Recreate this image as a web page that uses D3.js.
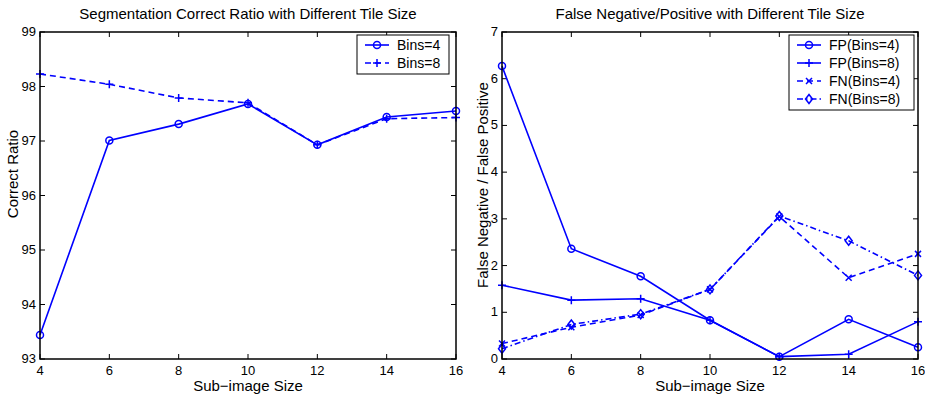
<!DOCTYPE html>
<html>
<head>
<meta charset="utf-8">
<script src="https://cdn.jsdelivr.net/npm/d3@7.9.0/dist/d3.min.js"></script>
<style>
  body { margin: 0; background: #fff; }
  svg { font-family: "Liberation Sans", Arial, sans-serif; }
</style>
</head>
<body>
<div id="chart"></div>
<script>
const sizes = [4, 6, 8, 10, 12, 14, 16];

// left plot: correct ratio
const ratioBins4 = [93.44, 97.01, 97.31, 97.68, 96.93, 97.44, 97.55];
const ratioBins8 = [98.23, 98.04, 97.79, 97.70, 96.93, 97.41, 97.43];

// right plot: false negative / false positive
const fpBins4 = [6.27, 2.36, 1.77, 0.83, 0.05, 0.85, 0.25];
const fpBins8 = [1.58, 1.26, 1.29, 0.83, 0.05, 0.10, 0.80];
const fnBins4 = [0.33, 0.68, 0.94, 1.49, 3.05, 1.74, 2.25];
const fnBins8 = [0.22, 0.74, 0.96, 1.49, 3.06, 2.53, 1.79];

const xTicks = [4, 6, 8, 10, 12, 14, 16];
const ratioTicks = [93, 94, 95, 96, 97, 98, 99];
const fTicks = [0, 1, 2, 3, 4, 5, 6, 7];

const W = 925, H = 394;
const svg = d3.select("#chart").append("svg")
    .attr("width", W).attr("height", H);

const blue = "#0000ff";

function marker(g, type, cx, cy) {
    if (type === "o") {
        g.append("circle").attr("cx", cx).attr("cy", cy).attr("r", 3.5)
            .attr("fill", "none").attr("stroke", blue).attr("stroke-width", 1.5);
    } else if (type === "+") {
        g.append("path").attr("d", `M${cx-4},${cy}H${cx+4}M${cx},${cy-4}V${cy+4}`)
            .attr("stroke", blue).attr("stroke-width", 1.5);
    } else if (type === "x") {
        g.append("path").attr("d", `M${cx-3},${cy-3}L${cx+3},${cy+3}M${cx-3},${cy+3}L${cx+3},${cy-3}`)
            .attr("stroke", blue).attr("stroke-width", 1.5);
    } else if (type === "d") {
        g.append("path").attr("d", `M${cx},${cy-4.5}L${cx+3.5},${cy}L${cx},${cy+4.5}L${cx-3.5},${cy}Z`)
            .attr("fill", "none").attr("stroke", blue).attr("stroke-width", 1.5);
    }
}

const dashes = { "-": null, "--": "6,4", "-.": "6,3,1.5,3" };

function panel(opt) {
    const { left, right, top, bottom } = opt;
    const x = d3.scaleLinear().domain([4, 16]).range([left, right]);
    const y = d3.scaleLinear().domain(opt.yDomain).range([bottom, top]);
    const g = svg.append("g");

    // axes box ticks (inward, on all sides)
    const tl = 5;
    xTicks.forEach(t => {
        g.append("line").attr("x1", x(t)).attr("x2", x(t)).attr("y1", bottom).attr("y2", bottom - tl)
            .attr("stroke", "#000");
        g.append("line").attr("x1", x(t)).attr("x2", x(t)).attr("y1", top).attr("y2", top + tl)
            .attr("stroke", "#000");
        g.append("text").attr("x", x(t)).attr("y", bottom + 16).attr("text-anchor", "middle")
            .style("font-size", "13px").text(t);
    });
    opt.yTicks.forEach(t => {
        g.append("line").attr("x1", left).attr("x2", left + tl).attr("y1", y(t)).attr("y2", y(t))
            .attr("stroke", "#000");
        g.append("line").attr("x1", right).attr("x2", right - tl).attr("y1", y(t)).attr("y2", y(t))
            .attr("stroke", "#000");
        g.append("text").attr("x", left - 4).attr("y", y(t) + 4).attr("text-anchor", "end")
            .style("font-size", "13px").text(t);
    });

    const line = d3.line().x(d => x(d[0])).y(d => y(d[1]));
    opt.series.forEach(s => {
        const pts = sizes.map((v, i) => [v, s.values[i]]);
        g.append("path").attr("d", line(pts)).attr("fill", "none")
            .attr("stroke", blue).attr("stroke-width", 1.6)
            .attr("stroke-dasharray", dashes[s.style]);
        pts.forEach(p => marker(g, s.marker, x(p[0]), y(p[1])));
    });

    g.append("rect").attr("x", left).attr("y", top).attr("width", right - left).attr("height", bottom - top)
        .attr("fill", "none").attr("stroke", "#000").attr("stroke-width", 1.5);

    g.append("text").attr("x", (left + right) / 2).attr("y", 19).attr("text-anchor", "middle")
        .style("font-size", "15px").text(opt.title);
    g.append("text").attr("x", (left + right) / 2).attr("y", 391).attr("text-anchor", "middle")
        .style("font-size", "15px").text("Sub\u2212image Size");
    g.append("text").attr("transform", `translate(${opt.yLabelX},${opt.yLabelY}) rotate(-90)`)
        .attr("text-anchor", "middle").style("font-size", "15px").text(opt.yLabel);

    // legend
    const lg = opt.legend;
    const rowH = 18;
    const lh = opt.series.length * rowH + 3;
    g.append("rect").attr("x", lg.x).attr("y", lg.y).attr("width", lg.w).attr("height", lh)
        .attr("fill", "#fff").attr("stroke", "#000").attr("stroke-width", 1);
    opt.series.forEach((s, i) => {
        const cy = lg.y + 10 + i * rowH;
        g.append("line").attr("x1", lg.x + 8).attr("x2", lg.x + 32).attr("y1", cy).attr("y2", cy)
            .attr("stroke", blue).attr("stroke-width", 1.6).attr("stroke-dasharray", dashes[s.style]);
        marker(g, s.marker, lg.x + 20, cy);
        g.append("text").attr("x", lg.x + 40).attr("y", cy + 5).style("font-size", "14px").text(s.name);
    });
}

panel({
    left: 40, right: 456, top: 32, bottom: 359,
    yDomain: [93, 99], yTicks: ratioTicks,
    title: "Segmentation Correct Ratio with Different Tile Size",
    yLabel: "Correct Ratio", yLabelX: 18, yLabelY: 174,
    legend: { x: 357, y: 35, w: 92 },
    series: [
        { name: "Bins=4", values: ratioBins4, marker: "o", style: "-" },
        { name: "Bins=8", values: ratioBins8, marker: "+", style: "--" }
    ]
});

panel({
    left: 502, right: 918, top: 32, bottom: 359,
    yDomain: [0, 7], yTicks: fTicks,
    title: "False Negative/Positive with Different Tile Size",
    yLabel: "False Negative / False Positive", yLabelX: 488, yLabelY: 185,
    legend: { x: 789, y: 35, w: 125 },
    series: [
        { name: "FP(Bins=4)", values: fpBins4, marker: "o", style: "-" },
        { name: "FP(Bins=8)", values: fpBins8, marker: "+", style: "-" },
        { name: "FN(Bins=4)", values: fnBins4, marker: "x", style: "--" },
        { name: "FN(Bins=8)", values: fnBins8, marker: "d", style: "-." }
    ]
});
</script>
</body>
</html>
